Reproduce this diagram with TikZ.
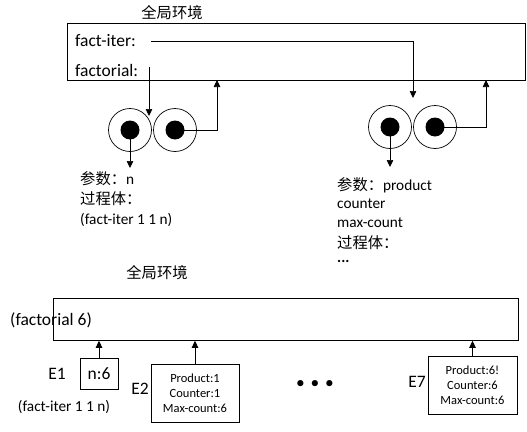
\documentclass[tikz,border=0pt]{standalone}
\usepackage{fontspec}
\setmainfont{Carlito}
\newfontfamily\cjk{Noto Sans CJK SC}
\usetikzlibrary{arrows.meta}
\begin{document}
\begin{tikzpicture}[x=1pt,y=-1pt,
  box/.style={draw, line width=0.8pt, inner sep=0pt},
  arr/.style={-{Triangle[length=7pt,width=6.5pt]}, line width=0.7pt},
  big/.style={font=\fontsize{17.5}{20}\selectfont, inner sep=0pt},
  mid/.style={font=\fontsize{15.3}{18}\selectfont, inner sep=0pt},
  small/.style={font=\fontsize{12.5}{15}\selectfont, align=center},
  ring/.style={circle, draw, line width=0.7pt, minimum size=43pt, inner sep=0pt},
  dot/.style={circle, fill, minimum size=19pt, inner sep=0pt},
]
\useasboundingbox (0,0) rectangle (527,431);

% ---------- top part ----------
\node[mid] (g1) at (172,13) {\cjk 全局环境};
\node[box, minimum width=458pt, minimum height=57pt, anchor=north west] (top) at (67,23) {};
\node[big, anchor=west] (fi) at (75,41) {fact-iter:};
\node[big, anchor=west] (fa) at (75,70) {factorial:};

% procedure objects
\node[ring] (r1a) at (130,130) {};
\node[dot]  (d1a) at (130,130) {};
\node[ring] (r1b) at (175,130) {};
\node[dot]  (d1b) at (175,130) {};
\node[ring] (r2a) at (390,127) {};
\node[dot]  (d2a) at (390,127) {};
\node[ring] (r2b) at (435,127) {};
\node[dot]  (d2b) at (435,127) {};

\coordinate (fiS) at (151,41);
\coordinate (fiT) at (413,98);
\coordinate (faS) at (149,67);
\coordinate (faT) at (149,116);
\coordinate (p1) at (130,168);
\coordinate (p2) at (390,167);

\draw[arr] (fiS) -| (fiT);
\draw[arr] (faS) -- (faT);
\draw[arr] (d1b.center) -| (217,80);
\draw[arr] (d2b.center) -| (486,80);
\draw[arr] (d1a.center) -- (p1);
\draw[arr] (d2a.center) -- (p2);

% text blocks
\node[mid, anchor=west] (t11) at (80,179) {{\cjk 参数：}n};
\node[mid, anchor=west] (t12) at (80,199) {\cjk 过程体：};
\node[mid, anchor=west] (t13) at (80,220) {(fact-iter 1 1 n)};

\node[mid, anchor=west] (t21) at (337,185) {{\cjk 参数：}product};
\node[mid, anchor=west] (t22) at (337,204) {counter};
\node[mid, anchor=west] (t23) at (337,223) {max-count};
\node[mid, anchor=west] (t24) at (337,243) {\cjk 过程体：};
\node[mid, anchor=west] (t25) at (337,261) {\textbf{...}};

% ---------- bottom part ----------
\node[mid] (g2) at (157,273) {\cjk 全局环境};
\node[box, minimum width=465pt, minimum height=42pt, anchor=north west] (glob) at (53,298) {};
\node[big, anchor=west] (f6) at (10,320) {(factorial 6)};

\node[box, big, minimum width=38pt, minimum height=31pt] (e1) at (99,373.5) {n:6};
\node[big] (e1l) at (57,374) {E1};
\node[mid] (e1c) at (64,407) {(fact-iter 1 1 n)};

\node[box, small, minimum width=88pt, minimum height=58pt] (e2) at (195,393) {Product:1\\Counter:1\\Max-count:6};
\node[big] (e2l) at (140,389) {E2};

\node[big] (dots) at (315,384) {\textbullet\,\,\textbullet\,\,\textbullet};

\node[box, small, minimum width=89pt, minimum height=58pt] (e7) at (472.5,385) {Product:6!\\Counter:6\\Max-count:6};
\node[big] (e7l) at (417,382) {E7};

\draw[arr] (e1.north) -- (e1.north |- glob.south);
\draw[arr] (e2.north) -- (e2.north |- glob.south);
\draw[arr] (e7.north) -- (e7.north |- glob.south);
\end{tikzpicture}
\end{document}
